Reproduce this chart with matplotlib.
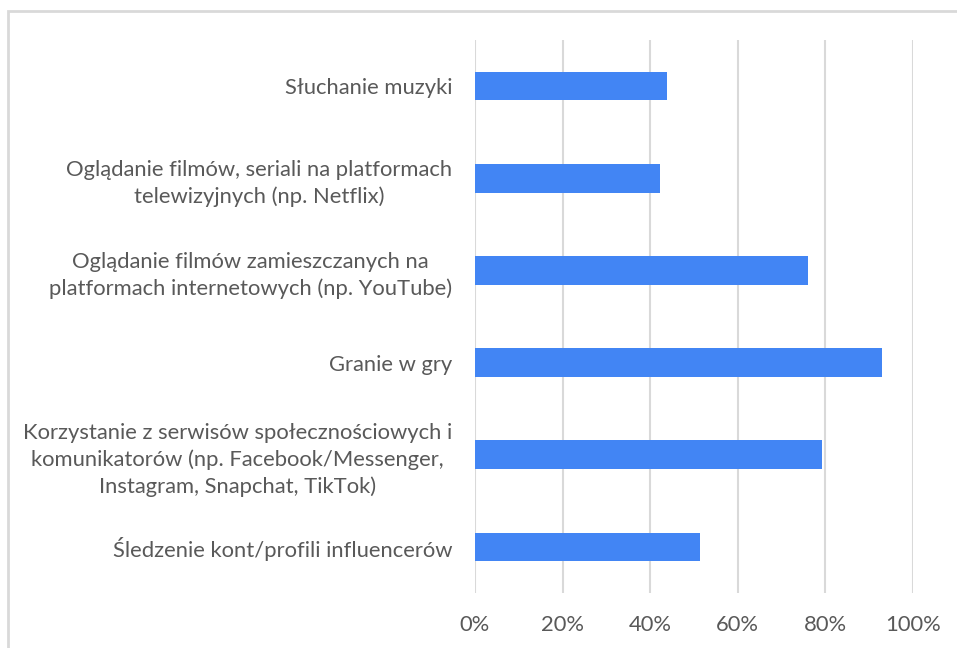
import matplotlib
matplotlib.use('Agg')
import matplotlib.pyplot as plt
from matplotlib.patches import Rectangle

# Kategorie (od góry do dołu) i wartości w procentach
kategorie = [
    'Słuchanie muzyki',
    'Oglądanie filmów, seriali na platformach\ntelewizyjnych (np. Netflix)',
    'Oglądanie filmów zamieszczanych na\nplatformach internetowych (np. YouTube)',
    'Granie w gry',
    'Korzystanie z serwisów społecznościowych i\nkomunikatorów (np. Facebook/Messenger,\nInstagram, Snapchat, TikTok)',
    'Śledzenie kont/profili influencerów',
]
wartosci = [43.8, 42.3, 76.0, 93.0, 79.3, 51.4]
xticks = [0, 20, 40, 60, 80, 100]
xtick_labels = ['0%', '20%', '40%', '60%', '80%', '100%']

plt.rcParams['font.family'] = ['Lato', 'DejaVu Sans']
kolor_tekstu = '#595959'
kolor_siatki = '#d9d9d9'

fig = plt.figure(figsize=(9.57, 6.48), dpi=100)
ax = fig.add_axes([0.4963, 0.0849, 0.4577, 0.8534])

# Ramka wokół wykresu
fig.patches.append(Rectangle((8 / 957, -0.1), 1.2, 1 - 11 / 648 + 0.1,
                             transform=fig.transFigure, fill=False,
                             edgecolor=kolor_siatki, linewidth=2))

y = list(range(len(kategorie)))
ax.barh(y, wartosci, height=0.31, color='#4285f4', zorder=3)

ax.set_xlim(0, 100)
ax.set_ylim(len(kategorie) - 0.5, -0.5)
ax.set_xticks(xticks)
ax.set_xticklabels(xtick_labels)
ax.set_yticks(y)
ax.set_yticklabels(kategorie, ha='right', multialignment='center',
                   linespacing=1.4)

for x in xticks:
    ax.axvline(x, color=kolor_siatki, linewidth=1.5, zorder=1)

for s in ax.spines.values():
    s.set_visible(False)

ax.tick_params(axis='both', length=0, labelsize=15.8, colors=kolor_tekstu)
ax.tick_params(axis='x', pad=16)
ax.tick_params(axis='y', pad=16.5)

fig.savefig('out.png', dpi=100)
